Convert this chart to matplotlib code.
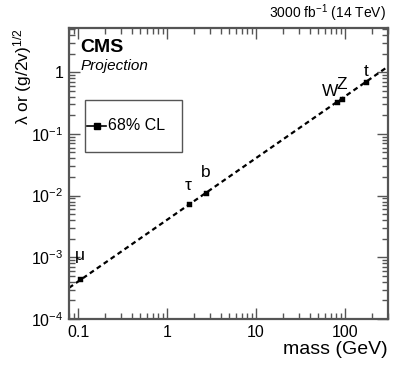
import matplotlib
matplotlib.use("Agg")
import matplotlib.pyplot as plt
from matplotlib.patches import Rectangle
from matplotlib.lines import Line2D
from matplotlib.ticker import FixedLocator, FuncFormatter, LogLocator, NullFormatter

plt.rcParams['font.family'] = ['Liberation Sans', 'DejaVu Sans']
plt.rcParams['mathtext.fontset'] = 'custom'
plt.rcParams['mathtext.rm'] = 'Liberation Sans'
plt.rcParams['mathtext.it'] = 'Liberation Sans:italic'
plt.rcParams['mathtext.default'] = 'regular'

# data
particles = ['μ', 'τ', 'b', 'W', 'Z', 't']
masses = [0.1057, 1.777, 2.75, 80.4, 91.2, 173.0]
couplings = [4.4e-4, 7.2e-3, 0.0112, 0.327, 0.371, 0.70]
line_x = [0.079, 300.0]
line_y = [3.2e-4, 1.22]
xticks = [0.1, 1, 10, 100]
xticklabels = ['0.1', '1', '10', '100']
yticks = [1e-4, 1e-3, 1e-2, 1e-1, 1]
yticklabels = ['$10^{-4}$', '$10^{-3}$', '$10^{-2}$', '$10^{-1}$', '1']

fig = plt.figure(figsize=(3.98, 3.67), dpi=100)
ax = fig.add_axes([0.1734, 0.1308, 0.8016, 0.7929])
ax.set_xscale('log')
ax.set_yscale('log')
ax.set_xlim(0.079, 304)
ax.set_ylim(1e-4, 5.2)

ax.plot(line_x, line_y, ls=(0, (2.2, 1.6)), color='black', lw=1.6, zorder=2)
ax.plot(masses, couplings, ls='none', marker='s', ms=3.6, color='black',
        mec='black', mew=0.3, zorder=3)

offsets = {'μ': (0, 12), 'τ': (-1, 8), 'b': (0, 9), 'W': (1, 2), 'Z': (0, 5), 't': (0, 2)}
for name, x, y in zip(particles, masses, couplings):
    dx, dy = offsets[name]
    ha = 'right' if name == 'W' else 'center'
    ax.annotate(name, (x, y), xytext=(dx, dy), textcoords='offset points',
                ha=ha, va='bottom', fontsize=12.5)

ax.xaxis.set_major_locator(FixedLocator(xticks))
ax.xaxis.set_major_formatter(FuncFormatter(lambda v, p: xticklabels[min(range(len(xticks)), key=lambda i: abs(xticks[i]-v))]))
ax.yaxis.set_major_locator(FixedLocator(yticks))
ax.yaxis.set_major_formatter(FuncFormatter(lambda v, p: yticklabels[min(range(len(yticks)), key=lambda i: abs(yticks[i]-v))]))
ax.xaxis.set_minor_locator(LogLocator(base=10, subs=range(2, 10)))
ax.yaxis.set_minor_locator(LogLocator(base=10, subs=range(2, 10)))
ax.xaxis.set_minor_formatter(NullFormatter())
ax.yaxis.set_minor_formatter(NullFormatter())

ax.tick_params(which='both', direction='in', top=True, right=True, color='#555555')
ax.tick_params(which='major', length=8, width=1.0, labelsize=11.5, pad=4)
ax.tick_params(which='minor', length=4, width=1.0)
for s in ax.spines.values():
    s.set_linewidth(1.6)
    s.set_color('#555555')

ax.set_xlabel('mass (GeV)', fontsize=14, loc='right', labelpad=1)
ax.set_ylabel('λ or (g/2v)$^{1/2}$', fontsize=12.5)
ax.yaxis.set_label_coords(-0.145, 1.0)
ax.yaxis.label.set_ha('right')
ax.yaxis.label.set_va('center')

ax.text(0.035, 0.962, 'CMS', transform=ax.transAxes, fontsize=14, fontweight='bold', va='top')
ax.text(0.035, 0.893, 'Projection', transform=ax.transAxes, fontsize=11, style='italic', va='top')
fig.text(0.97, 0.952, '3000 fb$^{-1}$ (14 TeV)', ha='right', va='baseline', fontsize=10)

# legend box drawn in axes fraction
ax.add_patch(Rectangle((0.050, 0.575), 0.305, 0.178, transform=ax.transAxes, fill=False,
                       edgecolor='#555555', lw=1.0, zorder=4))
ax.add_line(Line2D([0.057, 0.117], [0.664, 0.664], transform=ax.transAxes, color='black',
                   lw=1.2, zorder=5))
ax.plot([0.087], [0.664], transform=ax.transAxes, marker='s', ms=4, color='black', zorder=6)
ax.text(0.122, 0.664, '68% CL', transform=ax.transAxes, fontsize=11.5, va='center', ha='left')

fig.savefig('out.png', dpi=100)
